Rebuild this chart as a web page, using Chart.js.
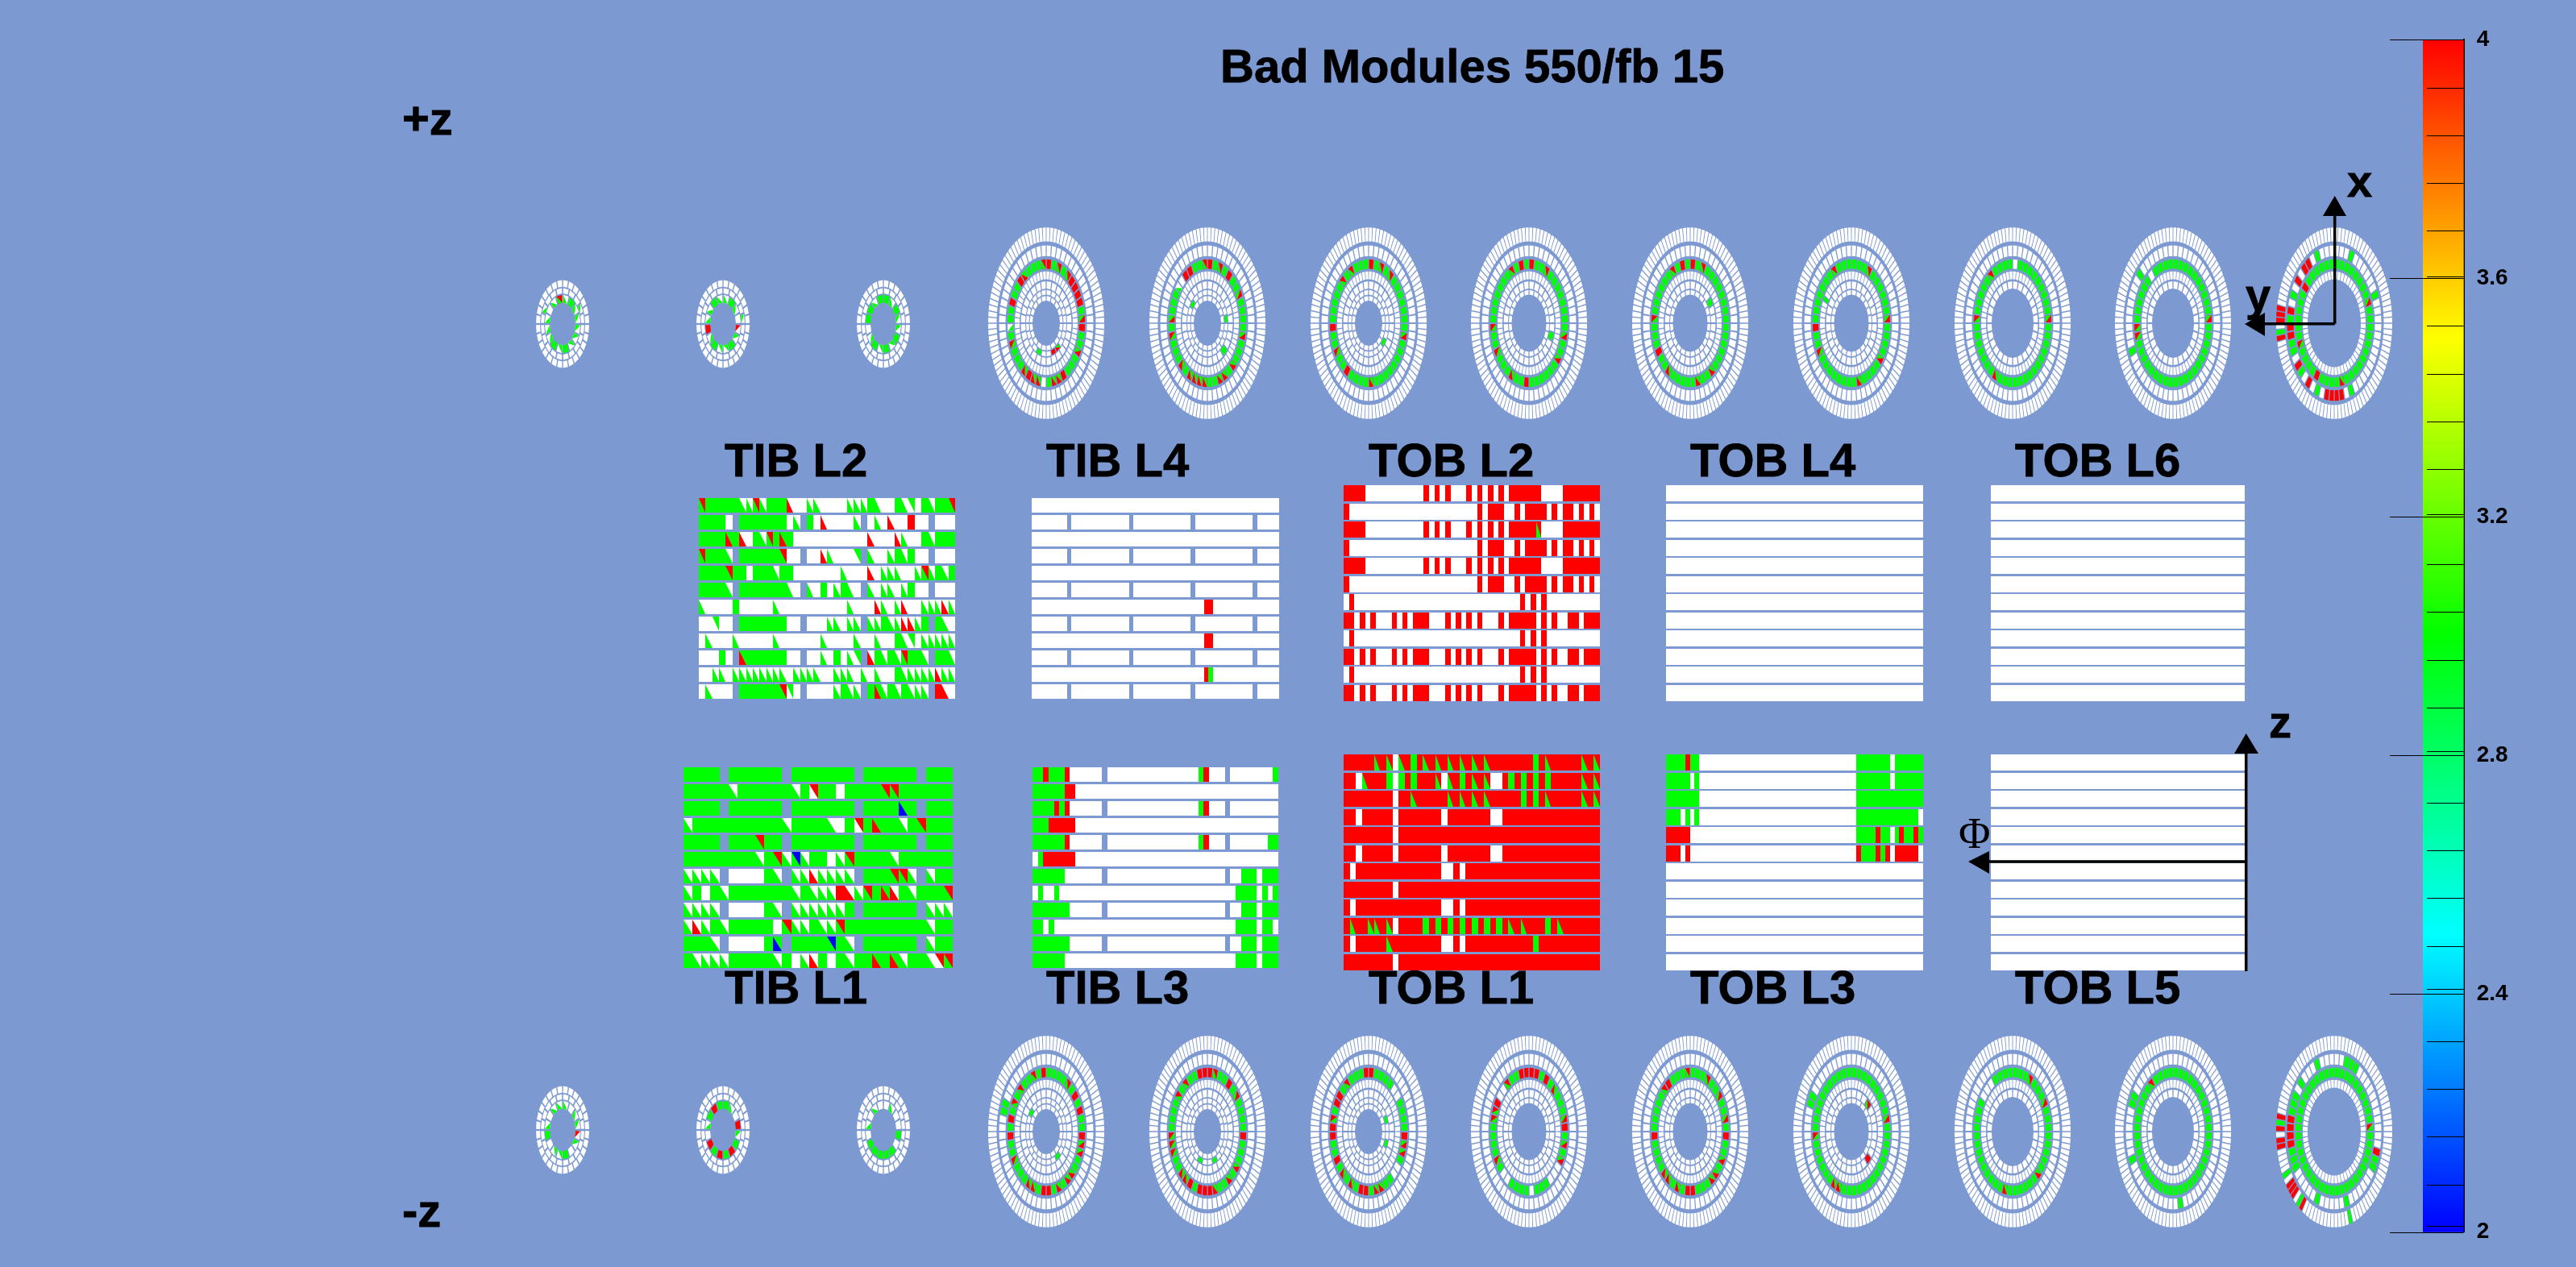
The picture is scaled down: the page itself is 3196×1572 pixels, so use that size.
<!DOCTYPE html>
<html>
<head>
<meta charset="utf-8">
<title>Bad Modules 550/fb 15</title>
<script src="https://cdn.jsdelivr.net/npm/chart.js@4/dist/chart.umd.min.js"></script>
<style>
  html, body { margin: 0; padding: 0; width: 3196px; height: 1572px; overflow: hidden; background: #7d99d1; }
  canvas { position: absolute; top: 0; }
  #trackerMap { left: 0; }
  #palette { left: 2960px; }
  .lbl { position: absolute; font: bold 56px "Liberation Sans", Arial, sans-serif; line-height: 1; color: #000; white-space: pre; -webkit-text-stroke: 0.8px #000; }
</style>
</head>
<body>
<canvas id="trackerMap" width="3196" height="1572"></canvas>
<canvas id="palette" width="236" height="1572"></canvas>
<div id="labels"></div>
<script>
/**
 * Tracker map: barrel layers are rows of module states, end caps are rings of modules.
 * Row tokens are count + state, e.g. "4g r 2." Disk hits are "ring state+angle ...|ring ...",
 * angle in degrees clockwise from the top of the disk.
 * . white  g green  r red  _ no module
 * two sensor modules, lower-left / upper-right: a g/w  c w/g  d r/w  e g/r  f w/r  h r/g  i b/g  j g/b
 */
const titleText = 'Bad Modules 550/fb 15';

const tibL2Rows = [
  'e 5g a a e a 3g d 2. a a 4. a a a g a 2. g a c . g a 2g e',
  '4g . _ 7g . a _ g . d 4. a _ . a . d 2. r 2. _ 3.',
  '4g h g d . g a e g h g 11. d 3. d a 2. g a 3g',
  'e 3g a _ 6g e 2. _ 2. d a 3. c _ a 2. a g a g 2. _ 3.',
  '4g e 2g . 3g a 2g 7. a 3. d . a a a 2. a e a g a g',
  '4g a _ 7g a . _ a . g . a g a . _ a . a a . a g 2. _ 3.',
  'a 4. g 5. a 10. a 3. d a . a d 2. a a a d a',
  '2. c 2. _ 7g 2. _ 2. . a a . a a _ a a g a a d d a g _ g a .',
  '. a 3. a 5. a 6. a 4. a 2. a 2. g a c . a a a a a',
  '3. g . _ h 6g 2. _ 2. a . g . a c _ d g a g a e g g a _ g g a',
  '2. a a . 8a . 4a 2. a a a . a . a 2. g 5a d a a',
  '. a 3. _ 6g e c . _ 4. a g a a _ g h a g a g a a a _ r d .',
];
const tibL4Rows = [
  '56.', '8. _ 13. _ 13. _ 13. _ 5.', '56.', '8. _ 13. _ 13. _ 13. _ 5.',
  '56.', '8. _ 13. _ 13. _ 13. _ 5.', '39. 2r 15.', '8. _ 13. _ 13. _ 13. _ 5.',
  '39. 2r 15.', '8. _ 13. _ 13. _ 13. _ 5.', '39. r g 15.', '8. _ 13. _ 13. _ 13. _ 5.',
];
const tobL2Rows = [
  '4r 11. r . r . r 3. r . r . r . r . 6r 4. 7r',
  'r 24. r . 3r 2. r . 4r . r . 2r . r . r .',
  '4r 11. r . r . r 3. r . r . r . r . 5r e 4. 7r',
  'r 24. r . 3r 2. r . 4r . r . 2r . r . r .',
  '4r 11. r . r . r 3. r . r . r . r . 6r 4. 7r',
  'r 24. r . 3r 2. r . 4r . r . 2r . r . r .',
  '. r 31. r . r . r 10.',
  '2r . r . r 3. r . r . 3r 3. r . r . r . r 3. r . 5r . r . r 2. 2r . 3r',
  '. r 31. r . r . r 10.',
  '2r . r . r 3. r . r . 3r 3. r . r . r . r 3. r . 5r . r . r 2. 2r . 3r',
  '. r 31. r . r . r 10.',
  '2r . r . r 3. r . r . 3r 3. r . r . r . r 3. r . 5r . r . r 2. 2r . 3r',
];
const tobL4Rows = ['.', '.', '.', '.', '.', '.', '.', '.', '.', '.', '.', '.'];
const tobL6Rows = ['.', '.', '.', '.', '.', '.', '.', '.', '.', '.', '.', '.'];
const tibL1Rows = [
  '4g _ 6g _ 7g _ 6g _ 3g',
  '5g a 6g a g f 2g . 4g e e 6g',
  '4g _ 6g _ 7g _ 4g i g _ 3g',
  'a 10g a 4g a . g f g h 2g a g e 3g',
  '4g _ 3g e 2g _ 7g _ 6g _ 3g',
  '8g a g e a j a 2g . a e 4g a 6g',
  '4a _ 4. g a _ a a d 4a _ 3g e e a _ a 2g',
  'a g . g a 7g a g a a a r d a e g h d g a 3g e',
  '4a _ 4. g a _ 6a g _ 6g _ 3a',
  'a d a g a 5g . e a a g a a e 9g a 2g',
  '3g a _ 4. g i _ 4g j g a _ 6g _ a 2g',
  'g 4a 5g a g . a d g . g a 2g h g h a 2g a f e',
];
const tibL3Rows = [
  '2g r 3g r 6. _ 17. g r 3. _ 8. g',
  '6g 2r 38.',
  '4g r g r 6. _ 17. g r 3. _ 9.',
  '3g 5r 38.',
  '6g r 6. _ 17. g r 3. _ 7. 2g',
  '. g 6r 38.',
  '6g 7. _ 22. _ 2. 3g . 3g',
  '. g 2. g 33. 4g . g . g',
  '7g 6. _ 22. _ 2. 3g . 3g',
  '2g . g 34. 4g . 2g .',
  '7g 6. _ 22. _ 2. 3g . 3g',
  '6g 32. 4g . 3g',
];
const tobL1Rows = [
  '5r e r e . e r g r e r e r e r e r e r e 7r g r e 5r e r e',
  '2r . e 3r g . g r g 3r e . e r g r e r e 2. r g r g r g r g 5r e r e',
  '8r . 2r e 5r e r e r e r e 5r g r g r e 5r e r e',
  '2r . 5r . 7r . 7r 2. 16r',
  '8r . 33r',
  '2r . 5r . 7r . 7r 2. 16r',
  'r . 14r 2. r . 22r',
  '8r . 33r',
  'r . 14r 2. r . 22r',
  'r e 2r e e r e . 4r g r g r g r g r g r g r g r e r e 3r g r e 6r',
  'r . 5r e 8r 2. r . 11r g 10r',
  '8r . 33r',
];
const tobL3Rows = [
  '4g r 2g 33. 7g . 6g',
  '5g . g 33. 7g . 6g',
  '7g 33. 14g',
  '3g . g . g 33. 13g .',
  '5r 35. 4g r 2g . g r 2g r g',
  '3r . r 35. r 3g r g r . 5r .',
  '.', '.', '.', '.', '.', '.',
];
const tobL5Rows = ['.', '.', '.', '.', '.', '.', '.', '.', '.', '.', '.', '.'];

const tecPlusHits = [
  '4 r2 e355 e20 e33 r45 r53 r62 r72 e87 r95 e120 r148 e157 e167 .183 .188 e195 e200 r210 e220 e250 a268 r292 r312 h325|1 e140 r150 g200',
  '4 r3 e353 e18 r37 e58 e100 e133 e150 e160 e183 e190 e197 e205 e222 e258 h275 a308 .316 r323 r332|2 r130 g140|1 g300 g75',
  '4 r5 e20 e35 e105 e175 r215 e240 r265 e315 e330|1 g120',
  '4 r0 e30 e100 e130 r180 e210 e240 e265 e335 r350|2 g110',
  '4 r0 e20 e145 e165 e215 r240 e270 e335 r350|2 g60',
  '4 e25 e85 e130 e170 e240 r265 e335|3 g300',
  '4 .5 e85 e205 e270 e320',
  '4 e85 e255 e265 .320|5 g310 g250',
  '4 e67 e167 r212 e246 r303|5 g337 r325 r318 r305 g22 g67 g292 r279 g273 r266 r260 g253 g247 r234 g229 r214 g205 r189 r182 r177 r171 g159|6 r278 r274 r270 g265 r260',
];
const tecMinusHits = [
  '4 r353 e339 e36 r53 r72 r92 e105 e111 e131 e141 e157 r176 r184 e200 e212 e241 r265 r282 e295 e316|5 g292 g285|1 g307 g141',
  '4 r350 r358 r6 e15 e320 e305 r35 e50 r92 r268 e262 e255 e248 e228 e220 r205 r195 r184 r176 e165 e140 e130|1 g160 g200',
  '4 r356 r4 e322 r308 r298 e285 r278 r272 r265 r92 e100 e110 r242 e225 e212 r190 r180 e170 e160 .45 .53 .125 .133|1 g70 g110',
  '4 r345 r353 r1 r9 r30 h45 e325 r300 e290 e280 e75 r88 e100 e120 e240 .310 .318 .130 .138 .146 .228 .220 .176',
  '4 e355 r320 e312 e30 e50 e75 r90 e268 r262 e118 e135 e145 e225 e215 e200 r184 r172',
  '4 e262 e75 e210 e200|5 g290 g298|2 e50 e130 r140',
  '4 e30 e65 e135 e195 .320 .312 .304',
  '4 e325|5 g290 g298 g245 g250 g170',
  '4 h85|5 r278 r273 r267 r261 g255 g248 g241 g203 g164 g337 g16 g21 g29 g312 g299 g292 g286 r106 g114 g120|6 r279 g274 r270 r265 r261 g243 r234 r229 r225 g220 r216 g163',
];
const tidPlusHits = [
  '0 a10 a25 g40 a55 a70 d90 a110 a130 a150 g165 a180 a200 g215 g230 a245 a262 g275 a292 a315 a335 e357|1 a60 a290',
  '0 a15 g35 a60 d100 a125 g150 a175 a195 g215 a240 r262 a280 a310 g335 a352|1 a75',
  '0 g10 a30 g50 a75 a100 g125 a150 g175 a195 g220 a245 g270 g295 a320 g345',
];
const tidMinusHits = [
  '0 a20 a45 a85 d100 a130 g160 a190 a215 g250 a285 a325 a350',
  '0 g15 a40 r70 a95 g125 r150 g175 r195 g215 r245 a270 g295 r320 g345',
  '0 a30 g110 g135 g160 g185 g210 g235 a280 a330',
];
const tecFirstRing = [0, 0, 0, 1, 1, 1, 2, 2, 3];

const tecColumnsX = [1298, 1498, 1698, 1897, 2097, 2297, 2497, 2696, 2896];
const tidColumnsX = [698, 897, 1096];

const majorTicks = [2, 2.4, 2.8, 3.2, 3.6, 4];
const minorTicks = [2.011, 2.08, 2.16, 2.24, 2.32, 2.408, 2.48, 2.56, 2.64, 2.72, 2.807, 2.88, 2.96,
  3.04, 3.12, 3.204, 3.28, 3.36, 3.44, 3.52, 3.603, 3.68, 3.76, 3.84, 3.92];
const paletteRange = [2, 4];
const paletteStops = ['#0000ff', '#00ffff', '#00ff00', '#ffff00', '#ff0000'];

// layout, in page pixels
const tecRadii = [[17, 20.5], [21.5, 25], [26, 31.5], [33, 39], [41, 48], [50.5, 58.5], [61.5, 72]];
const tecCounts = [20, 24, 28, 56, 44, 56, 96];
const tidRadii = [[16, 22], [23, 27], [28, 33]];
const tidCounts = [16, 20, 28];
const DISK_ASPECT = 1.65;

const WHITE = '#ffffff', GREEN = '#00ff00', RED = '#ff0000', BLUE = '#0000ff';
const cellStates = {
  '.': [WHITE], g: [GREEN], r: [RED],
  a: [GREEN, WHITE], c: [WHITE, GREEN], d: [RED, WHITE], e: [GREEN, RED],
  f: [WHITE, RED], h: [RED, GREEN], i: [BLUE, GREEN], j: [GREEN, BLUE],
};

function expandRow(row) {
  const out = [];
  row.split(' ').forEach((tok) => {
    const m = tok.match(/^(\d*)(.)$/);
    const n = m[1] ? parseInt(m[1], 10) : 1;
    for (let i = 0; i < n; i++) out.push(m[2]);
  });
  return out;
}

function pushCell(out, corners, state) {
  const [ll, ur] = cellStates[state];
  const cx = (corners[0][0] + corners[2][0]) / 2;
  const cy = (corners[0][1] + corners[2][1]) / 2;
  out.push({ x: cx, y: cy, corners, color: ur || ll });
  // the two sensors of a stereo module meet on the top-left to bottom-right diagonal
  if (ur) out.push({ x: cx, y: cy, corners: [corners[0], corners[2], corners[3]], color: ll });
}

function panelCells(rows, x0, y0, x1, y1, rowFill) {
  const out = [];
  const period = (y1 - y0) / (rows.length - 1 + rowFill);
  rows.forEach((row, r) => {
    const cols = expandRow(row);
    const w = (x1 - x0) / cols.length;
    const top = y0 + r * period;
    const bottom = top + period * rowFill;
    cols.forEach((state, c) => {
      if (state === '_') return;
      const left = x0 + c * w;
      const right = left + w;
      pushCell(out, [[left, top], [right, top], [right, bottom], [left, bottom]], state);
    });
  });
  return out;
}

function diskCells(cx, cy, radii, counts, firstRing, hits, greenRing) {
  const out = [];
  const byRing = {};
  hits.split('|').forEach((part) => {
    const toks = part.split(' ');
    byRing[toks[0]] = toks.slice(1);
  });
  const polar = (r, deg) => {
    const a = (deg * Math.PI) / 180;
    return [cx + r * Math.sin(a), cy - DISK_ASPECT * r * Math.cos(a)];
  };
  radii.forEach(([rIn, rOut], ring) => {
    if (ring < firstRing) return;
    const n = counts[ring];
    const states = new Array(n).fill(ring === greenRing ? 'g' : '.');
    (byRing[ring] || []).forEach((tok) => {
      const m = tok.match(/^([a-z.])(\d+)$/);
      states[Math.floor((parseInt(m[2], 10) % 360) / 360 * n)] = m[1];
    });
    const step = 360 / n;
    const inset = step * 0.1;
    states.forEach((state, s) => {
      const a0 = s * step + inset;
      const a1 = (s + 1) * step - inset;
      pushCell(out, [polar(rOut, a0), polar(rOut, a1), polar(rIn, a1), polar(rIn, a0)], state);
    });
  });
  return out;
}

function triangle(p1, p2, p3) {
  return { x: p1[0], y: p1[1], corners: [p1, p2, p3], color: '#000000' };
}

// snapped sets sit on whole pixels, so neighbouring modules leave no seam
const cellSets = [
  ['TIB L2', panelCells(tibL2Rows, 867, 618, 1185, 867, 0.86), true],
  ['TIB L4', panelCells(tibL4Rows, 1280, 618, 1587, 867, 0.86), true],
  ['TOB L2', panelCells(tobL2Rows, 1667, 602, 1985, 870, 0.89), true],
  ['TOB L4', panelCells(tobL4Rows, 2067, 602, 2386, 870, 0.89), true],
  ['TOB L6', panelCells(tobL6Rows, 2470, 602, 2785, 870, 0.89), true],
  ['TIB L1', panelCells(tibL1Rows, 848, 952, 1182, 1201, 0.86), true],
  ['TIB L3', panelCells(tibL3Rows, 1281, 952, 1586, 1201, 0.86), true],
  ['TOB L1', panelCells(tobL1Rows, 1667, 936, 1985, 1204, 0.89), true],
  ['TOB L3', panelCells(tobL3Rows, 2067, 936, 2386, 1204, 0.89), true],
  ['TOB L5', panelCells(tobL5Rows, 2470, 936, 2785, 1204, 0.89), true],
];
tecColumnsX.forEach((cx, i) => {
  cellSets.push(['TEC+ ' + (i + 1), diskCells(cx, 401, tecRadii, tecCounts, tecFirstRing[i], tecPlusHits[i], 4), false]);
  cellSets.push(['TEC- ' + (i + 1), diskCells(cx, 1404, tecRadii, tecCounts, tecFirstRing[i], tecMinusHits[i], 4), false]);
});
tidColumnsX.forEach((cx, i) => {
  cellSets.push(['TID+ ' + (i + 1), diskCells(cx, 402, tidRadii, tidCounts, 0, tidPlusHits[i], -1), false]);
  cellSets.push(['TID- ' + (i + 1), diskCells(cx, 1402, tidRadii, tidCounts, 0, tidMinusHits[i], -1), false]);
});
cellSets.push(['arrow heads', [
  triangle([2896.7, 243], [2882, 268], [2911, 268]),
  triangle([2785, 402], [2810, 388], [2810, 417]),
  triangle([2786.7, 910], [2772, 935], [2802, 935]),
  triangle([2442, 1069], [2468, 1056], [2468, 1084]),
], false]);

const guideLines = [
  [[2896.7, 401.7], [2896.7, 262]],
  [[2896.7, 401.7], [2805, 401.7]],
  [[2786.7, 1205], [2786.7, 930]],
  [[2786.7, 1069], [2462, 1069]],
];

const moduleCellsPlugin = {
  id: 'moduleCells',
  beforeDatasetsDraw(chart) {
    const { ctx, scales } = chart;
    chart.data.datasets.forEach((ds) => {
      if (!ds.moduleCells) return;
      ds.data.forEach((cell) => {
        ctx.fillStyle = cell.color;
        ctx.beginPath();
        cell.corners.forEach((p, i) => {
          let px = scales.x.getPixelForValue(p[0]);
          let py = scales.y.getPixelForValue(p[1]);
          if (ds.snapCells) {
            px = Math.round(px);
            py = Math.round(py);
          }
          if (i === 0) ctx.moveTo(px, py);
          else ctx.lineTo(px, py);
        });
        ctx.closePath();
        ctx.fill();
      });
    });
  },
};

new Chart(document.getElementById('trackerMap'), {
  type: 'scatter',
  data: {
    datasets: cellSets
      .map(([label, data, snapCells]) => ({ label, data, snapCells, moduleCells: true, pointRadius: 0, showLine: false }))
      .concat(guideLines.map((line, i) => ({
        label: 'axis ' + i,
        data: line.map((p) => ({ x: p[0], y: p[1] })),
        showLine: true,
        borderColor: '#000000',
        borderWidth: 3.5,
        pointRadius: 0,
      }))),
  },
  options: {
    responsive: false,
    animation: false,
    devicePixelRatio: 1,
    events: [],
    layout: { padding: 0 },
    plugins: { legend: { display: false }, tooltip: { enabled: false } },
    scales: {
      x: { type: 'linear', min: 0, max: 3196, display: false },
      y: { type: 'linear', min: 0, max: 1572, reverse: true, display: false },
    },
  },
  plugins: [moduleCellsPlugin],
});

const paletteTicksPlugin = {
  id: 'paletteTicks',
  afterDatasetsDraw(chart) {
    const { ctx, chartArea } = chart;
    const y = chart.scales.y;
    const line = (v, left) => {
      const py = Math.round(y.getPixelForValue(v)) + 0.5;
      ctx.beginPath();
      ctx.moveTo(left, py);
      ctx.lineTo(chartArea.right, py);
      ctx.stroke();
    };
    ctx.save();
    ctx.strokeStyle = '#000000';
    ctx.lineWidth = 1;
    minorTicks.forEach((v) => line(v, chartArea.left + 5));
    majorTicks.forEach((v) => line(v, chartArea.left - 41));
    ctx.restore();
  },
};

new Chart(document.getElementById('palette'), {
  type: 'bar',
  data: {
    labels: ['palette'],
    datasets: [{
      data: [paletteRange],
      barPercentage: 1,
      categoryPercentage: 1,
      backgroundColor(c) {
        const area = c.chart.chartArea;
        if (!area) return paletteStops[0];
        const g = c.chart.ctx.createLinearGradient(0, area.bottom, 0, area.top);
        paletteStops.forEach((col, i) => g.addColorStop(i / (paletteStops.length - 1), col));
        return g;
      },
    }],
  },
  options: {
    responsive: false,
    animation: false,
    devicePixelRatio: 1,
    events: [],
    layout: { padding: { left: 46, top: 49.4, bottom: 43.3, right: 0 } },
    plugins: { legend: { display: false }, tooltip: { enabled: false } },
    scales: {
      x: { display: false },
      y: {
        position: 'right',
        min: paletteRange[0],
        max: paletteRange[1],
        afterFit(scale) { scale.width = 139.3; },
        afterBuildTicks(scale) { scale.ticks = majorTicks.map((value) => ({ value })); },
        grid: { display: false, drawTicks: false },
        border: { display: true, color: '#000000', width: 2 },
        ticks: {
          padding: 16,
          color: '#000000',
          font: { family: '"Liberation Sans", Arial, sans-serif', size: 28, weight: 'bold' },
          callback: (v) => String(v),
        },
      },
    },
  },
  plugins: [paletteTicksPlugin],
});

// text: [string, left, baseline, size, extra font]
const pageLabels = [
  [titleText, 1514, 102, 58],
  ['+z', 499, 167, 58],
  ['-z', 499, 1522, 58],
  ['TIB L2', 899, 591, 58], ['TIB L4', 1298, 591, 58], ['TOB L2', 1698, 591, 58],
  ['TOB L4', 2097, 591, 58], ['TOB L6', 2500, 591, 58],
  ['TIB L1', 899, 1245, 58], ['TIB L3', 1298, 1245, 58], ['TOB L1', 1698, 1245, 58],
  ['TOB L3', 2097, 1245, 58], ['TOB L5', 2500, 1245, 58],
  ['x', 2912, 244, 56], ['y', 2786, 385, 56], ['z', 2815, 915, 56],
  ['\u03A6', 2430, 1053, 54, 'serif'],
];
const labelBox = document.getElementById('labels');
pageLabels.forEach(([text, left, baseline, size, kind]) => {
  const d = document.createElement('div');
  d.className = 'lbl';
  d.textContent = text;
  d.style.left = left + 'px';
  d.style.top = baseline - 0.8465 * size + 'px';
  d.style.fontSize = size + 'px';
  if (kind === 'serif') {
    d.style.fontFamily = '"Liberation Serif", serif';
    d.style.fontWeight = 'normal';
    d.style.webkitTextStroke = '0';
  }
  labelBox.appendChild(d);
});
</script>
</body>
</html>
